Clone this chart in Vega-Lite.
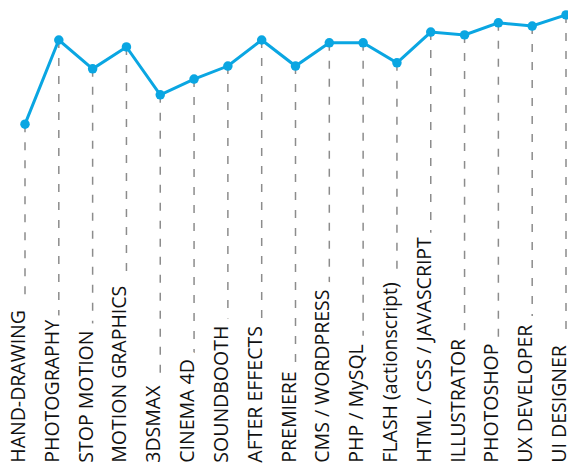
{
  "$schema": "https://vega.github.io/schema/vega-lite/v6.json",
  "width": 568,
  "height": 465,
  "autosize": {"type": "none"},
  "padding": 0,
  "background": "white",
  "config": {"view": {"stroke": null}},
  "data": {"values": [
    {"skill": "HAND-DRAWING", "level": 73.3},
    {"skill": "PHOTOGRAPHY", "level": 91.4},
    {"skill": "STOP MOTION", "level": 85.2},
    {"skill": "MOTION GRAPHICS", "level": 89.9},
    {"skill": "3DSMAX", "level": 79.6},
    {"skill": "CINEMA 4D", "level": 83.0},
    {"skill": "SOUNDBOOTH", "level": 85.8},
    {"skill": "AFTER EFFECTS", "level": 91.4},
    {"skill": "PREMIERE", "level": 85.8},
    {"skill": "CMS / WORDPRESS", "level": 90.8},
    {"skill": "PHP / MySQL", "level": 90.8},
    {"skill": "FLASH (actionscript)", "level": 86.5},
    {"skill": "HTML / CSS / JAVASCRIPT", "level": 93.1},
    {"skill": "ILLUSTRATOR", "level": 92.5},
    {"skill": "PHOTOSHOP", "level": 95.1},
    {"skill": "UX DEVELOPER", "level": 94.4},
    {"skill": "UI DESIGNER", "level": 96.8}
  ]},
  "encoding": {
    "x": {"field": "skill", "type": "nominal", "sort": null,
          "scale": {"type": "point", "range": [25, 566], "padding": 0}, "axis": null}
  },
  "layer": [
    {
      "mark": {"type": "rule", "color": "#8c8c8c", "strokeWidth": 1.5, "strokeDash": [8, 10]},
      "encoding": {
        "y": {"field": "level", "type": "quantitative", "scale": {"domain": [0, 100]}, "axis": null},
        "y2": {"datum": 0}
      }
    },
    {
      "mark": {"type": "text", "angle": 270, "align": "left", "baseline": "alphabetic",
               "font": "Open Sans", "fontSize": 19.5, "fill": "white", "stroke": "white", "strokeWidth": 18, "strokeJoin": "round"},
      "encoding": {
        "y": {"datum": 0.5, "type": "quantitative"},
        "text": {"field": "skill"}
      }
    },
    {
      "mark": {"type": "text", "angle": 270, "align": "left", "baseline": "alphabetic",
               "font": "Open Sans", "fontSize": 19.5, "color": "#111111"},
      "encoding": {
        "y": {"datum": 0.5, "type": "quantitative"},
        "text": {"field": "skill"}
      }
    },
    {
      "mark": {"type": "line", "color": "#0aa6e2", "strokeWidth": 3},
      "encoding": {"y": {"field": "level", "type": "quantitative"}}
    },
    {
      "mark": {"type": "point", "filled": true, "opacity": 1, "color": "#0aa6e2", "size": 90},
      "encoding": {"y": {"field": "level", "type": "quantitative"}}
    }
  ]
}
